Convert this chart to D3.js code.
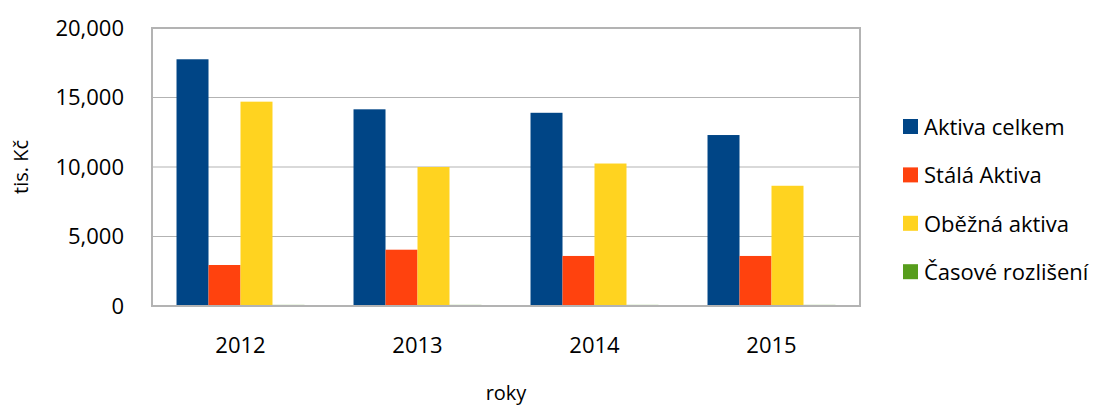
<!DOCTYPE html>
<html>
<head>
<meta charset="utf-8">
<script src="https://cdn.jsdelivr.net/npm/d3@7"></script>
<style>
  body { margin: 0; background: #fff; }
  svg { font-family: "Open Sans", sans-serif; }
</style>
</head>
<body>
<svg id="chart"></svg>
<script>
// data
var years = ["2012", "2013", "2014", "2015"];
var seriesNames = ["Aktiva celkem", "Stálá Aktiva", "Oběžná aktiva", "Časové rozlišení"];
var aktivaCelkem = [17750, 14150, 13900, 12300];
var stalaAktiva = [2950, 4050, 3600, 3600];
var obeznaAktiva = [14700, 10000, 10250, 8650];
var casoveRozliseni = [80, 80, 80, 80];
var yTicks = [0, 5000, 10000, 15000, 20000];
var colors = ["#004586", "#ff420e", "#ffd320", "#579d1c"];

var seriesValues = [aktivaCelkem, stalaAktiva, obeznaAktiva, casoveRozliseni];

var width = 1099, height = 405;
var plotL = 152, plotR = 860, plotT = 28, plotB = 306;

var svg = d3.select("#chart").attr("width", width).attr("height", height);

var x0 = d3.scaleBand().domain(years).range([plotL, plotR])
  .paddingInner(0.277).paddingOuter(0.1385);
var x1 = d3.scaleBand().domain(d3.range(seriesNames.length)).range([0, x0.bandwidth()]);
var y = d3.scaleLinear().domain([0, 20000]).range([plotB, plotT]);

// gridlines
svg.append("g")
  .selectAll("line")
  .data(yTicks.slice(1, -1))
  .enter().append("line")
  .attr("x1", plotL).attr("x2", plotR)
  .attr("y1", function(d){ return y(d); })
  .attr("y2", function(d){ return y(d); })
  .attr("stroke", "#b3b3b3").attr("stroke-width", 1);

// bars
var groups = svg.append("g").selectAll("g")
  .data(years)
  .enter().append("g")
  .attr("transform", function(d){ return "translate(" + x0(d) + ",0)"; });

groups.selectAll("rect")
  .data(function(d, i){
    return seriesValues.map(function(s, k){ return {k: k, v: s[i]}; });
  })
  .enter().append("rect")
  .attr("x", function(d){ return x1(d.k); })
  .attr("width", x1.bandwidth())
  .attr("y", function(d){ return y(d.v); })
  .attr("height", function(d){ return plotB - y(d.v); })
  .attr("fill", function(d){ return colors[d.k]; });

// plot border
svg.append("rect")
  .attr("x", plotL).attr("y", plotT)
  .attr("width", plotR - plotL).attr("height", plotB - plotT)
  .attr("fill", "none").attr("stroke", "#b3b3b3").attr("stroke-width", 2);

// y axis labels
var yAxis = d3.axisLeft(y).tickValues(yTicks).tickSize(0).tickPadding(28)
  .tickFormat(d3.format(","));
svg.append("g")
  .attr("transform", "translate(" + plotL + ",0)")
  .call(yAxis)
  .call(function(g){ g.select(".domain").remove(); })
  .selectAll("text")
  .attr("font-size", 22).attr("font-family", "'Open Sans', sans-serif").attr("fill", "#000");

// x axis labels
var xAxis = d3.axisBottom(x0).tickSize(0).tickPadding(31);
svg.append("g")
  .attr("transform", "translate(0," + plotB + ")")
  .call(xAxis)
  .call(function(g){ g.select(".domain").remove(); })
  .selectAll("text")
  .attr("font-size", 22).attr("font-family", "'Open Sans', sans-serif").attr("fill", "#000");

// axis titles
svg.append("text")
  .attr("x", (plotL + plotR) / 2).attr("y", 400)
  .attr("text-anchor", "middle").attr("font-size", 20)
  .text("roky");

svg.append("text")
  .attr("transform", "translate(28," + ((plotT + plotB) / 2) + ") rotate(-90)")
  .attr("text-anchor", "middle").attr("font-size", 20)
  .text("tis. Kč");

// legend
var legend = svg.append("g").selectAll("g")
  .data(seriesNames)
  .enter().append("g")
  .attr("transform", function(d, i){ return "translate(903," + (127 + i * 48.4) + ")"; });

legend.append("rect")
  .attr("x", 0).attr("y", -8).attr("width", 15).attr("height", 15)
  .attr("fill", function(d, i){ return colors[i]; });

legend.append("text")
  .attr("x", 21).attr("y", 0).attr("dy", "0.35em")
  .attr("font-size", 22)
  .text(function(d){ return d; });
</script>
</body>
</html>
